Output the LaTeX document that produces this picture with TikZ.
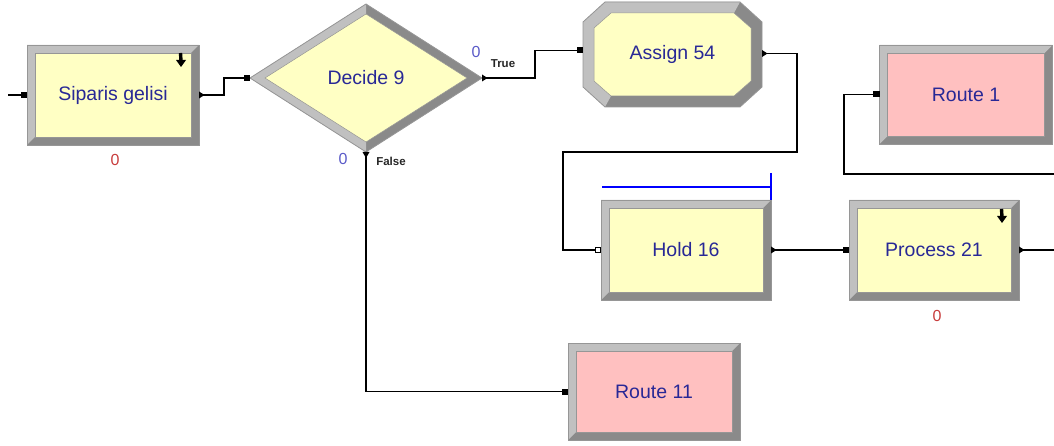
\documentclass[tikz,border=0pt]{standalone}
\usepackage{fontspec}
\setmainfont{Liberation Sans}
\usetikzlibrary{shapes.geometric,backgrounds}
\definecolor{modyellow}{RGB}{255,255,196}
\definecolor{modpink}{RGB}{255,192,192}
\definecolor{bevlight}{RGB}{192,192,192}
\definecolor{bevdark}{RGB}{138,138,138}
\definecolor{bevedge}{RGB}{150,150,150}
\definecolor{modtext}{RGB}{40,40,150}
\definecolor{cntred}{RGB}{200,60,60}
\definecolor{cntblue}{RGB}{90,90,200}
\tikzset{
 mod/.style={rectangle, inner sep=0pt, outer sep=0pt, text=modtext, font=\fontsize{19.5}{22}\selectfont},
 conn/.style={line width=1.2pt, black},
 cnt/.style={font=\fontsize{16}{18}\selectfont, inner sep=0pt},
 lbl/.style={font=\bfseries\fontsize{11.5}{13}\selectfont, inner sep=0pt, text=black!85},
 bevline/.style={draw=bevedge, line width=0.8pt},
 holdbar/.style={line width=1.3pt, blue},
}
\newcommand\bevelrect[3]{%
 \begin{scope}[on background layer]
  \fill[bevdark] (#1.north west) rectangle (#1.south east);
  \fill[bevlight] (#1.south west) -- (#1.north west) -- (#1.north east) -- ([shift={(-#2,#2)}]#1.north east) -- ([shift={(#2,#2)}]#1.north west) -- ([shift={(#2,-#2)}]#1.south west) -- cycle;
  \fill[#3] ([shift={(#2,#2)}]#1.north west) rectangle ([shift={(-#2,-#2)}]#1.south east);
  \draw[bevline] (#1.north west) rectangle (#1.south east);
  \draw[draw=bevedge, line width=0.5pt] ([shift={(#2,#2)}]#1.north west) rectangle ([shift={(-#2,-#2)}]#1.south east);
 \end{scope}}
\newcommand\entrysq[1]{\fill ([shift={(-6.5,-3)}]#1) rectangle ([shift={(0,3)}]#1);}
\newcommand\exittri[1]{\fill ([shift={(0,-3.5)}]#1) -- ([shift={(5.5,0)}]#1) -- ([shift={(0,3.5)}]#1) -- cycle;}
\newcommand\batchicon[1]{\draw[line width=3.4pt] ([shift={(-0.5,-7)}]#1) -- ([shift={(0,1)}]#1);
 \fill ([shift={(-5,0)}]#1) -- ([shift={(5,0)}]#1) -- ([shift={(0,7)}]#1) -- cycle;}
\begin{document}
\begin{tikzpicture}[x=1pt,y=-1pt]
\useasboundingbox (0,0) rectangle (1054,446);
% modules
\node[mod, minimum width=172pt, minimum height=100pt] (sip) at (113,95) {Siparis gelisi};
\node[mod, diamond, minimum width=232pt, minimum height=148pt] (dec) at (366,78) {Decide 9};
\node[mod, minimum width=179pt, minimum height=105pt] (asg) at (672.5,54.5) {Assign 54};
\node[mod, minimum width=173pt, minimum height=99pt] (r1) at (966,94.5) {Route 1};
\node[mod, minimum width=170pt, minimum height=100pt] (hold) at (686,250) {Hold 16};
\node[mod, minimum width=170pt, minimum height=100pt] (proc) at (934,250) {Process 21};
\node[mod, minimum width=172pt, minimum height=97pt] (r11) at (654,391.5) {Route 11};
\coordinate (asgin) at ([shift={(0,-4)}]asg.west);
\coordinate (asgout) at ([shift={(0,-1)}]asg.east);
\coordinate (sipicon) at ([shift={(-18,15)}]sip.north east);
\coordinate (procicon) at ([shift={(-17,16)}]proc.north east);
\bevelrect{sip}{8}{modyellow}
\bevelrect{r1}{8}{modpink}
\bevelrect{hold}{8}{modyellow}
\bevelrect{proc}{8}{modyellow}
\bevelrect{r11}{8}{modpink}
% diamond
\begin{scope}[on background layer]
 \fill[bevdark] (dec.west) -- (dec.north) -- (dec.east) -- (dec.south) -- cycle;
 \fill[bevlight] (dec.north) -- (dec.west) -- (dec.south) -- ([shift={(0,-10)}]dec.south) -- ([shift={(15,0)}]dec.west) -- ([shift={(0,10)}]dec.north) -- cycle;
 \fill[modyellow] ([shift={(15,0)}]dec.west) -- ([shift={(0,10)}]dec.north) -- ([shift={(-15,0)}]dec.east) -- ([shift={(0,-10)}]dec.south) -- cycle;
 \draw[bevline] (dec.west) -- (dec.north) -- (dec.east) -- (dec.south) -- cycle;
 \draw[draw=bevedge, line width=0.5pt] ([shift={(15,0)}]dec.west) -- ([shift={(0,10)}]dec.north) -- ([shift={(-15,0)}]dec.east) -- ([shift={(0,-10)}]dec.south) -- cycle;
% octagon
 \fill[bevdark] ([shift={(22,0)}]asg.north west) -- ([shift={(-22,0)}]asg.north east) -- ([shift={(0,20)}]asg.north east) -- ([shift={(0,-20)}]asg.south east) -- ([shift={(-22,0)}]asg.south east) -- ([shift={(22,0)}]asg.south west) -- ([shift={(0,-20)}]asg.south west) -- ([shift={(0,20)}]asg.north west) -- cycle;
 \fill[bevlight] ([shift={(22,0)}]asg.south west) -- ([shift={(0,-20)}]asg.south west) -- ([shift={(0,20)}]asg.north west) -- ([shift={(22,0)}]asg.north west) -- ([shift={(-22,0)}]asg.north east) -- ([shift={(-28,11)}]asg.north east) -- ([shift={(28,11)}]asg.north west) -- ([shift={(11,26)}]asg.north west) -- ([shift={(11,-26)}]asg.south west) -- ([shift={(28,-11)}]asg.south west) -- cycle;
 \fill[modyellow] ([shift={(28,11)}]asg.north west) -- ([shift={(-28,11)}]asg.north east) -- ([shift={(-11,26)}]asg.north east) -- ([shift={(-11,-26)}]asg.south east) -- ([shift={(-28,-11)}]asg.south east) -- ([shift={(28,-11)}]asg.south west) -- ([shift={(11,-26)}]asg.south west) -- ([shift={(11,26)}]asg.north west) -- cycle;
 \draw[bevline] ([shift={(22,0)}]asg.north west) -- ([shift={(-22,0)}]asg.north east) -- ([shift={(0,20)}]asg.north east) -- ([shift={(0,-20)}]asg.south east) -- ([shift={(-22,0)}]asg.south east) -- ([shift={(22,0)}]asg.south west) -- ([shift={(0,-20)}]asg.south west) -- ([shift={(0,20)}]asg.north west) -- cycle;
 \draw[draw=bevedge, line width=0.5pt] ([shift={(28,11)}]asg.north west) -- ([shift={(-28,11)}]asg.north east) -- ([shift={(-11,26)}]asg.north east) -- ([shift={(-11,-26)}]asg.south east) -- ([shift={(-28,-11)}]asg.south east) -- ([shift={(28,-11)}]asg.south west) -- ([shift={(11,-26)}]asg.south west) -- ([shift={(11,26)}]asg.north west) -- cycle;
\end{scope}
% connectors
\coordinate (in0) at (8,95);
\coordinate (in1) at (1054,174);
\coordinate (out0) at (1054,250);
\draw[conn] (in0) -- (sip.west);
\draw[conn] (sip.east) -- ++(25,0) |- (dec.west);
\draw[conn] (dec.east) -- (535,78) |- (asgin);
\draw[conn] (dec.south) |- (r11.west);
\draw[conn] (asgout) -| (797,152) -| (563,250) -- (hold.west);
\draw[conn] (hold.east) -- (proc.west);
\draw[conn] (proc.east) -- (out0);
\draw[conn] (in1) -- (844,174) |- (r1.west);
% ports
\entrysq{sip.west}
\entrysq{dec.west}
\entrysq{asgin}
\entrysq{r1.west}
\entrysq{proc.west}
\entrysq{r11.west}
\filldraw[fill=white, draw=black, line width=0.6pt] ([shift={(-6,-2.5)}]hold.west) rectangle ([shift={(-1,2.5)}]hold.west);
\exittri{sip.east}
\exittri{dec.east}
\exittri{asgout}
\exittri{hold.east}
\exittri{proc.east}
\fill ([shift={(-3.5,0)}]dec.south) -- ([shift={(3.5,0)}]dec.south) -- ([shift={(0,6)}]dec.south) -- cycle;
% hold bar
\draw[holdbar] ([shift={(1,-13)}]hold.north west) -- ([shift={(0,-13)}]hold.north east);
\draw[holdbar] ([shift={(0,-27)}]hold.north east) -- (hold.north east);
% icons
\batchicon{sipicon}
\batchicon{procicon}
% counters and labels
\node[cnt, text=cntred] (c1) at (115,160) {0};
\node[cnt, text=cntred] (c2) at (937,316) {0};
\node[cnt, text=cntblue] (c3) at (476,52) {0};
\node[cnt, text=cntblue] (c4) at (343,159) {0};
\node[lbl] (lt) at (503,64) {True};
\node[lbl] (lf) at (391,161) {False};
\end{tikzpicture}
\end{document}
